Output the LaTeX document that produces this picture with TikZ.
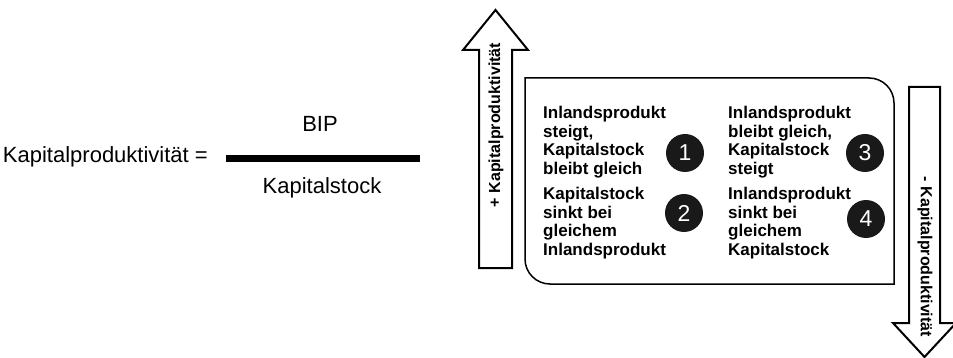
\documentclass[tikz,border=0pt]{standalone}
\usepackage{fontspec}
\setmainfont{Liberation Sans}
\usetikzlibrary{positioning}

\begin{document}
\begin{tikzpicture}[x=1pt, y=-1pt, every node/.style={inner sep=0pt, font=\fontsize{22}{26}\selectfont},
  quad/.style={anchor=north west, align=left, font=\fontsize{17}{18.7}\selectfont\bfseries},
  num/.style={circle, fill=black!90, text=white, minimum size=38pt, font=\fontsize{23}{23}\selectfont},
  bigarrow/.style={draw, line width=2pt, fill=white},
  arrowlabel/.style={font=\fontsize{16}{18}\selectfont\bfseries}]
  \useasboundingbox (0,0) rectangle (953,358);
  % formula
  \node[anchor=east] (lhs) at (208,157) {Kapitalproduktivit\"at =};
  \fill (226,155) rectangle (420,162);
  \node (bip) at (320,124) {BIP};
  \node (stock) at (322,188) {Kapitalstock};
  % arrows
  \draw[bigarrow] (479,268) -- (479,50) -- (463,50) -- (495.5,10) -- (528,50) -- (512,50) -- (512,268) -- cycle;
  \node[arrowlabel, rotate=90] (up) at (496,125) {+ Kapitalproduktivit\"at};
  \draw[bigarrow] (909,87) -- (940,87) -- (940,323) -- (956,323) -- (924.5,357) -- (893,323) -- (909,323) -- cycle;
  \node[arrowlabel, rotate=-90] (down) at (925,257) {- Kapitalproduktivit\"at};
  % box
  \draw[line width=1.5pt] (525,78) -- (869,78) arc (-90:0:25) -- (894,284) -- (550,284) arc (90:180:25) -- cycle;
  \node[quad] (q1) at (543,106) {Inlandsprodukt\\steigt,\\Kapitalstock\\bleibt gleich};
  \node[quad] (q2) at (543,187) {Kapitalstock\\sinkt bei\\gleichem\\Inlandsprodukt};
  \node[quad] (q3) at (728,106) {Inlandsprodukt\\bleibt gleich,\\Kapitalstock\\steigt};
  \node[quad] (q4) at (728,187) {Inlandsprodukt\\sinkt bei\\gleichem\\Kapitalstock};
  \foreach \n/\x/\y in {1/685/153, 2/684/213, 3/865/153, 4/866/219}
    \node[num] (c\n) at (\x,\y) {\n};
\end{tikzpicture}
\end{document}
